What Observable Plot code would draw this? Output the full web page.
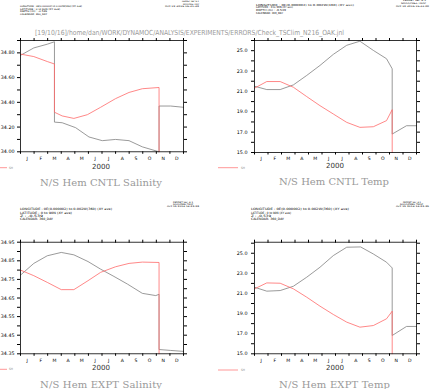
<!DOCTYPE html>
<html><head><meta charset="utf-8">
<script src="https://cdn.jsdelivr.net/npm/d3@7"></script>
<script src="https://cdn.jsdelivr.net/npm/@observablehq/plot@0.6"></script>
<style>
html,body{margin:0;padding:0;background:#fff;}
#root{position:relative;width:433px;height:389px;overflow:hidden;background:#fff;}
#root .p{position:absolute;}
#ov{position:absolute;left:0;top:0;pointer-events:none;}
</style></head><body><div id="root"></div>
<script>
// ---- axes / ticks ----
const monthLabels = ["J","F","M","A","M","J","J","A","S","O","N","D"];
const monthBounds = [0,1,2,3,4,5,6,7,8,9,10,11,12];
const monthMids = [0.5,1.5,2.5,3.5,4.5,5.5,6.5,7.5,8.5,9.5,10.5,11.5];

const cntlSalTicks = [34.0,34.1,34.2,34.3,34.4,34.5,34.6,34.7,34.8,34.9];
const cntlSalLabels = [34.0,34.2,34.4,34.6,34.8];
const exptSalTicks = [34.35,34.40,34.45,34.50,34.55,34.60,34.65,34.70,34.75,34.80,34.85,34.90,34.95];
const exptSalLabels = [34.35,34.45,34.55,34.65,34.75,34.85,34.95];
const tempTicks = [15,16,17,18,19,20,21,22,23,24,25,26];
const tempLabels = [15,17,19,21,23,25];

// ---- data (x in months from 1 Jan) ----
const cntlSalMonthsNH = [0,0.98,1.97,2.5,2.5,3.07,4.06,5.04,6.02,7.0,7.99,8.97,10.2,10.2,11.06,12];
const cntlSalNH = [34.78,34.84,34.87,34.89,34.24,34.235,34.195,34.12,34.09,34.10,34.09,34.04,34.00,34.37,34.37,34.36];
const cntlSalMonthsSH = [0,0.98,1.97,2.5,2.5,3.07,3.93,4.92,5.9,7.0,7.99,8.97,10.2,10.2];
const cntlSalSH = [34.79,34.77,34.73,34.71,34.32,34.29,34.27,34.30,34.36,34.43,34.48,34.51,34.52,34.00];

const cntlTempMonthsNH = [0,0.91,1.9,2.88,3.87,4.85,5.84,6.83,7.81,8.8,9.78,10.2,10.2,11.26,12];
const cntlTempNH = [21.51,21.18,21.18,21.64,22.57,23.55,24.64,25.53,25.93,25.03,24.21,23.22,16.81,17.63,17.63];
const cntlTempMonthsSH = [0,0.91,1.9,2.88,3.87,4.85,5.84,6.83,7.81,8.8,9.78,10.2,10.2];
const cntlTempSH = [21.32,21.97,21.97,21.41,20.49,19.6,18.78,17.96,17.47,17.53,18.13,19.21,15.0];

const exptSalMonthsNH = [0,0.98,1.97,3.0,3.93,4.97,5.9,6.88,7.87,8.97,9.96,10.2,10.2,11.06,12];
const exptSalNH = [34.773,34.836,34.877,34.895,34.882,34.846,34.805,34.766,34.725,34.675,34.663,34.670,34.373,34.368,34.363];
const exptSalMonthsSH = [0,0.98,1.97,3.0,3.93,4.97,5.9,7.0,7.99,8.97,10.2,10.2];
const exptSalSH = [34.80,34.77,34.734,34.695,34.695,34.743,34.788,34.818,34.836,34.843,34.841,34.35];

const exptTempMonthsNH = [0,0.91,1.9,2.88,3.87,4.85,5.84,6.83,7.86,8.8,9.78,10.2,10.2,11.26,12];
const exptTempNH = [21.62,21.23,21.29,21.72,22.62,23.61,24.77,25.60,25.63,24.93,24.11,23.54,16.82,17.72,17.72];
const exptTempMonthsSH = [0,0.91,1.9,2.88,3.87,4.85,5.84,6.83,7.81,8.8,9.78,10.2,10.2];
const exptTempSH = [21.46,22.05,22.02,21.46,20.63,19.74,18.91,18.15,17.65,17.81,18.48,19.24,15.0];

const NH_COLOR = "#808080";
const SH_COLOR = "#ff6a6a";

const root = document.getElementById("root");
const zip = (ms, vs) => ms.map((m, i) => ({m, v: vs[i]}));

function panel(cfg) {
  const labelSet = new Set(cfg.labels.map(d => d.toFixed(3)));
  const chart = Plot.plot({
    width: cfg.w, height: cfg.h,
    marginLeft: cfg.ml, marginRight: cfg.mr, marginTop: cfg.mt, marginBottom: cfg.mb,
    style: {background: "transparent", fontFamily: "DejaVu Sans", color: "#000", overflow: "visible"},
    x: {domain: [0, 12]},
    y: {domain: cfg.ydomain},
    marks: [
      Plot.line(zip(cfg.nhM, cfg.nhV), {x: "m", y: "v", stroke: NH_COLOR, strokeWidth: 0.8}),
      Plot.line(zip(cfg.shM, cfg.shV), {x: "m", y: "v", stroke: SH_COLOR, strokeWidth: 0.8}),
      Plot.frame({stroke: "#000", strokeWidth: 0.8}),
      Plot.axisX(monthBounds, {anchor: "top", tickSize: 3, tickFormat: () => "", label: null}),
      Plot.axisX(monthBounds, {anchor: "bottom", tickSize: 2.5, tickFormat: () => "", label: null}),
      Plot.axisX(monthMids, {anchor: "bottom", tickSize: 0, tickPadding: 4.5, fontSize: 4.6,
        tickFormat: d => monthLabels[Math.floor(d)], label: null}),
      Plot.axisY(cfg.ticks, {anchor: "left", tickSize: 3, tickPadding: cfg.tp, fontSize: 4.8,
        tickFormat: d => labelSet.has(d.toFixed(3)) ? d.toFixed(cfg.dec) : "", label: null}),
      Plot.axisY(cfg.ticks, {anchor: "right", tickSize: 3, tickFormat: () => "", label: null})
    ]
  });
  chart.classList.add("p");
  chart.style.left = cfg.left + "px";
  chart.style.top = cfg.top + "px";
  root.appendChild(chart);
}

panel({left: 0, top: 30, w: 216, h: 140, ml: 20, mr: 33, mt: 10, mb: 18.7, ydomain: [34.0, 34.9],
  ticks: cntlSalTicks, labels: cntlSalLabels, dec: 2, tp: 3,
  nhM: cntlSalMonthsNH, nhV: cntlSalNH, shM: cntlSalMonthsSH, shV: cntlSalSH});
panel({left: 216, top: 30, w: 217, h: 140, ml: 38, mr: 17, mt: 10, mb: 18, ydomain: [15, 26],
  ticks: tempTicks, labels: tempLabels, dec: 1, tp: 4,
  nhM: cntlTempMonthsNH, nhV: cntlTempNH, shM: cntlTempMonthsSH, shV: cntlTempSH});
panel({left: 0, top: 232, w: 216, h: 140, ml: 20, mr: 33, mt: 9.7, mb: 18.7, ydomain: [34.35, 34.95],
  ticks: exptSalTicks, labels: exptSalLabels, dec: 2, tp: 3,
  nhM: exptSalMonthsNH, nhV: exptSalNH, shM: exptSalMonthsSH, shV: exptSalSH});
panel({left: 216, top: 232, w: 217, h: 140, ml: 38, mr: 17, mt: 9.7, mb: 18.7, ydomain: [15, 26.1],
  ticks: tempTicks, labels: tempLabels, dec: 1, tp: 4,
  nhM: exptTempMonthsNH, nhV: exptTempNH, shM: exptTempMonthsSH, shV: exptTempSH});

// ---- overlay text ----
const NS = "http://www.w3.org/2000/svg";
const ov = document.createElementNS(NS, "svg");
ov.setAttribute("id", "ov");
ov.setAttribute("width", 433);
ov.setAttribute("height", 389);
root.appendChild(ov);

function txt(s, x, y, opt = {}) {
  const t = document.createElementNS(NS, "text");
  t.textContent = s;
  t.setAttribute("x", x);
  t.setAttribute("y", y);
  t.setAttribute("font-family", opt.font || "DejaVu Sans");
  t.setAttribute("font-size", opt.size || 2.6);
  t.setAttribute("fill", opt.fill || "#000");
  t.setAttribute("dominant-baseline", "central");
  if (opt.anchor) t.setAttribute("text-anchor", opt.anchor);
  if (opt.len) { t.setAttribute("textLength", opt.len); t.setAttribute("lengthAdjust", opt.adjust || "spacingAndGlyphs"); }
  ov.appendChild(t);
}
function seg(x1, x2, y, color) {
  const l = document.createElementNS(NS, "line");
  l.setAttribute("x1", x1); l.setAttribute("x2", x2);
  l.setAttribute("y1", y); l.setAttribute("y2", y);
  l.setAttribute("stroke", color); l.setAttribute("stroke-width", 0.7);
  ov.appendChild(l);
}

const hdrLong = "LONGITUDE : 0E(0.000002) to 0.002W(360) (XY ave)";
const hdrLat = "LATITUDE : 0 to 90N (XY ave)";
const hdrCal = "CALENDAR: 360_DAY";

// top-left header
txt(hdrLong, 20, 6, {len: 62, size: 2.5});
txt(hdrLat, 20, 9, {len: 40, size: 2.5});
txt("DEPTH (m) : -0.539", 20, 11.7, {len: 27, size: 2.5});
txt(hdrCal, 20, 14.7, {len: 27, size: 2.5});
txt("FERRET Ver. 6.1", 182, 1.7, {len: 17, size: 2.2});
txt("NOAA/PMEL TMAP", 183, 4.2, {len: 16, size: 2.2});
txt("Oct 19 2016 16:21:49", 165, 6.8, {len: 34, size: 2.2});
// top-right header
txt(hdrLong, 256, 5, {len: 98, size: 2.6});
txt(hdrLat, 256, 7.7, {len: 37, size: 2.6});
txt("DEPTH (m) : -0.539", 256, 10.4, {len: 30, size: 2.6});
txt(hdrCal, 256, 13.3, {len: 27, size: 2.6});
txt("FERRET Ver. 6.1", 403, 0.9, {len: 23, size: 2.2});
txt("NOAA/PMEL TMAP", 401, 3.4, {len: 25, size: 2.2});
txt("Oct 19 2016 16:22:00", 396, 6, {len: 33, size: 2.2});
// bottom-left header
txt(hdrLong, 20, 209.3, {len: 92, size: 3.1});
txt(hdrLat, 20, 212.7, {len: 52, size: 3.1});
txt("Z : -0.539", 20, 216, {len: 23, size: 3.1});
txt(hdrCal, 20, 219.3, {len: 33, size: 3.1});
txt("FERRET Ver. 6.1", 173, 201.6, {len: 20, size: 2.1});
txt("NOAA/PMEL TMAP", 173, 204, {len: 20, size: 2.1});
txt("Oct 19 2016 16:23:38", 167, 206.4, {len: 32, size: 2.1});
// bottom-right header
txt(hdrLong, 251, 209.3, {len: 98, size: 3.1});
txt(hdrLat, 251, 212.7, {len: 40, size: 3.1});
txt("Z : -0.539", 251, 216, {len: 20, size: 3.1});
txt(hdrCal, 251, 219.3, {len: 33, size: 3.1});
txt("FERRET Ver. 6.1", 403, 201.6, {len: 18, size: 2.1});
txt("NOAA/PMEL TMAP", 400, 204, {len: 23, size: 2.1});
txt("Oct 19 2016 16:23:39", 396, 206.4, {len: 33, size: 2.1});

// journal path
txt("[19/10/16]/home/dan/WORK/DYNAMOC/ANALYSIS/EXPERIMENTS/ERRORS/Check_TSClim_N216_OAK.jnl",
  35, 33, {len: 309, size: 7, fill: "#9a9a9a"});

// year labels
txt("2000", 92, 166.7, {len: 18, size: 7, fill: "#333"});
txt("2000", 326, 166, {len: 18, size: 7, fill: "#333"});
txt("2000", 92, 367.7, {len: 18, size: 7, fill: "#333"});
txt("2000", 326, 368.3, {len: 18, size: 7, fill: "#333"});

// legends
seg(0, 7, 167.7, SH_COLOR); txt("SH", 9, 167.7, {len: 4, size: 3, fill: "#888"});
seg(218, 238, 167.7, SH_COLOR); txt("SH", 241, 167.7, {len: 4, size: 3, fill: "#888"});
seg(0, 7, 369.3, SH_COLOR); txt("SH", 9, 369.3, {len: 4, size: 3, fill: "#888"});
seg(218, 238, 370, SH_COLOR); txt("SH", 241, 370, {len: 4, size: 3, fill: "#888"});

// titles
const tOpt = {font: "DejaVu Serif", size: 10, fill: "#999", adjust: "spacing"};
txt("N/S Hem CNTL Salinity", 40, 182, {...tOpt, len: 122});
txt("N/S Hem CNTL Temp", 279, 181.7, {...tOpt, len: 110});
txt("N/S Hem EXPT Salinity", 40, 384, {...tOpt, len: 122});
txt("N/S Hem EXPT Temp", 279, 384, {...tOpt, len: 111});
</script>
</body></html>
